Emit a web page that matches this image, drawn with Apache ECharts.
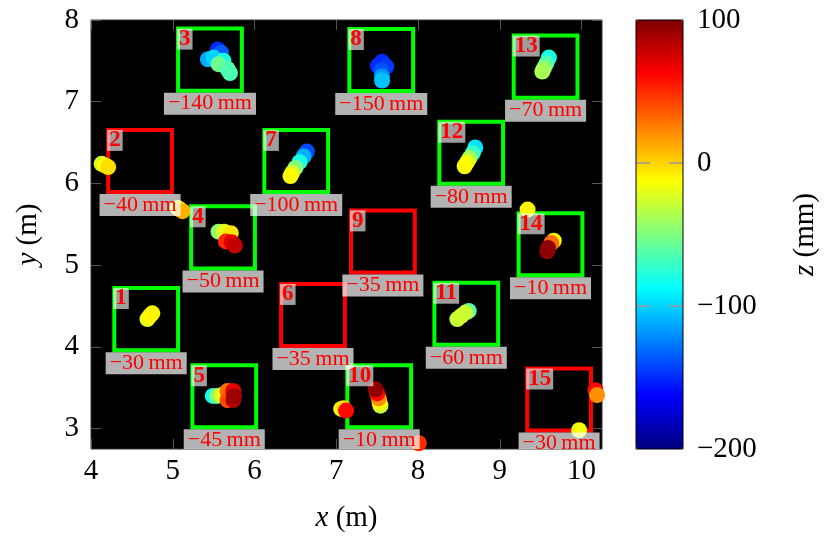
<!DOCTYPE html>
<html>
<head>
<meta charset="utf-8">
<script src="https://cdn.jsdelivr.net/npm/echarts@6/dist/echarts.min.js"></script>
<style>
  html, body { margin: 0; padding: 0; background: #fff; }
  #main { width: 831px; height: 544px; }
</style>
</head>
<body>
<div id="main"></div>
<script>
// boxes: centre (m), accepted or not, target depth (mm)
var boxNo    = [1, 2, 3, 4, 5, 6, 7, 8, 9, 10, 11, 12, 13, 14, 15];
var boxCx    = [4.675, 4.60, 5.455, 5.615, 5.63, 6.715, 6.51, 7.55, 7.57, 7.525, 8.59, 8.65, 9.56, 9.62, 9.725];
var boxCy    = [4.34, 6.275, 7.515, 5.34, 3.395, 4.39, 6.275, 7.51, 5.29, 3.395, 4.405, 6.375, 7.43, 5.255, 3.355];
var boxOk    = [1, 0, 1, 1, 1, 0, 1, 1, 0, 1, 1, 1, 1, 1, 0];
var boxDepth = [-30, -40, -140, -50, -45, -35, -100, -150, -35, -10, -60, -80, -70, -10, -30];
var boxW = 0.78, boxH = 0.76;

// measured points [x (m), y (m), z (mm)]
var blob1  = [[4.69, 4.34, -20], [4.72, 4.38, -12], [4.75, 4.41, -10]];
var blobL  = [[4.13, 6.24, -25], [4.17, 6.22, -12], [4.21, 6.20, -3]];
var blobC  = [[5.06, 5.70, -20], [5.09, 5.68, -5], [5.12, 5.66, 10]];
var blob3  = [[5.55, 7.64, -150], [5.59, 7.60, -135], [5.43, 7.52, -112], [5.50, 7.54, -100],
              [5.62, 7.50, -80], [5.56, 7.46, -55], [5.67, 7.40, -62], [5.70, 7.35, -65]];
var blob4  = [[5.56, 5.41, -45], [5.63, 5.41, -20], [5.71, 5.39, -5], [5.65, 5.29, 50],
              [5.72, 5.28, 70], [5.76, 5.24, 80]];
var blob5  = [[5.49, 3.40, -85], [5.54, 3.40, -50], [5.60, 3.41, -20], [5.67, 3.46, 30],
              [5.67, 3.35, 40], [5.74, 3.46, 70], [5.74, 3.35, 85], [5.75, 3.40, 90]];
var blob7  = [[6.64, 6.39, -140], [6.60, 6.33, -110], [6.55, 6.26, -80], [6.50, 6.19, -50],
              [6.46, 6.13, -25], [6.44, 6.09, -12]];
var blob8  = [[7.56, 7.49, -150], [7.51, 7.44, -150], [7.61, 7.43, -145], [7.55, 7.38, -138],
              [7.56, 7.31, -118], [7.56, 7.26, -105]];
var blob10 = [[7.54, 3.28, -30], [7.53, 3.32, -10], [7.52, 3.37, 20], [7.50, 3.43, 60], [7.48, 3.48, 95]];
var blobN  = [[7.06, 3.24, -15], [7.09, 3.25, -5], [7.12, 3.22, 60]];
var blob11 = [[8.62, 4.44, -65], [8.48, 4.34, -30], [8.53, 4.38, -25], [8.58, 4.42, -28]];
var blob12 = [[8.70, 6.44, -95], [8.67, 6.37, -70], [8.63, 6.31, -40], [8.60, 6.26, -18], [8.57, 6.21, -12]];
var blob13 = [[9.60, 7.54, -80], [9.57, 7.47, -65], [9.54, 7.41, -45], [9.52, 7.37, -38]];
var blob14 = [[9.34, 5.68, -10], [9.66, 5.30, -10], [9.63, 5.27, 30], [9.59, 5.21, 95], [9.58, 5.17, 95]];
var blobE  = [[10.17, 3.47, 60], [10.19, 3.41, 20], [9.97, 2.98, -15], [8.01, 2.82, 50]];

var xTicks = [4, 5, 6, 7, 8, 9, 10];
var yTicks = [3, 4, 5, 6, 7, 8];
var zMarks = [-100, 0];

var FONT = 'Liberation Serif';
var jet = ['#00007f', '#0000ff', '#007fff', '#00ffff', '#7fff7f', '#ffff00', '#ff7f00', '#ff0000', '#7f0000'];
var minus = function (v) { return String(v).replace('-', '\u2212'); };

var points = [].concat(blobL, blobC, blob1, blob3, blob4, blob5, blob7, blob8, blob10,
                       blobN, blob11, blob12, blob13, blob14, blobE);
var boxData = boxCx.map(function (x, i) { return [x, boxCy[i], boxNo[i], boxDepth[i], boxOk[i]]; });

function boxRect(api) {
  var p0 = api.coord([api.value(0) - boxW / 2, api.value(1) + boxH / 2]);
  var p1 = api.coord([api.value(0) + boxW / 2, api.value(1) - boxH / 2]);
  return { x: p0[0], y: p0[1], w: p1[0] - p0[0], h: p1[1] - p0[1] };
}

var tickStyle = { show: true, inside: true, length: 10, lineStyle: { color: '#555', width: 1 } };
var labelStyle = { fontFamily: FONT, fontSize: 29, color: '#000' };
var nameStyle = {
  fontFamily: FONT, fontSize: 29, color: '#000',
  rich: { i: { fontFamily: FONT, fontSize: 29, fontStyle: 'italic', color: '#000' } }
};

var chart = echarts.init(document.getElementById('main'));
var option = {
  backgroundColor: '#fff',
  animation: false,
  grid: [
    { left: 91, top: 20, width: 511, height: 429, show: true, backgroundColor: '#000',
      borderColor: '#333', borderWidth: 1, z: 0 },
    { left: 636, top: 20, width: 47, height: 429, show: true, backgroundColor: 'transparent',
      borderColor: '#000', borderWidth: 1, z: 10 }
  ],
  xAxis: [
    { gridIndex: 0, type: 'value', min: 4, max: 10.25, position: 'bottom', z: 1,
      axisLine: { show: false }, splitLine: { show: false },
      axisTick: Object.assign({ customValues: xTicks }, tickStyle),
      axisLabel: Object.assign({ customValues: xTicks, margin: 8, formatter: minus }, labelStyle),
      name: '{i|x} (m)', nameLocation: 'middle', nameGap: 55, nameTextStyle: nameStyle },
    { gridIndex: 0, type: 'value', min: 4, max: 10.25, position: 'top', z: 1,
      axisLine: { show: false }, splitLine: { show: false }, axisLabel: { show: false },
      axisTick: Object.assign({ customValues: xTicks }, tickStyle) },
    { gridIndex: 1, type: 'value', min: 0, max: 1, show: false }
  ],
  yAxis: [
    { gridIndex: 0, type: 'value', min: 2.75, max: 8, position: 'left', z: 1,
      axisLine: { show: false }, splitLine: { show: false },
      axisTick: Object.assign({ customValues: yTicks }, tickStyle),
      axisLabel: Object.assign({ customValues: yTicks, margin: 12, formatter: minus }, labelStyle),
      name: '{i|y} (m)', nameLocation: 'middle', nameGap: 48, nameTextStyle: nameStyle },
    { gridIndex: 0, type: 'value', min: 2.75, max: 8, position: 'right', z: 1,
      axisLine: { show: false }, splitLine: { show: false }, axisLabel: { show: false },
      axisTick: Object.assign({ customValues: yTicks }, tickStyle) },
    { gridIndex: 1, type: 'value', min: -200, max: 100, interval: 100, position: 'right', z: 8,
      axisLine: { show: false }, axisTick: { show: false }, splitLine: { show: false },
      axisLabel: Object.assign({ margin: 14, formatter: minus }, labelStyle),
      name: '{i|z} (mm)', nameLocation: 'middle', nameGap: 108, nameTextStyle: nameStyle }
  ],
  visualMap: {
    type: 'continuous', seriesIndex: 1, dimension: 2, min: -200, max: 100,
    calculable: false, orient: 'vertical', left: 636, top: 20, padding: 0,
    itemWidth: 47, itemHeight: 429, z: 4,
    inRange: { color: jet }
  },
  series: [
    { type: 'custom', xAxisIndex: 0, yAxisIndex: 0, clip: true, z: 2, silent: true,
      data: boxData,
      renderItem: function (params, api) {
        var r = boxRect(api);
        return { type: 'rect', shape: { x: r.x, y: r.y, width: r.w, height: r.h },
                 style: { fill: 'none', stroke: api.value(4) ? '#00ff00' : '#ff0000', lineWidth: 4 } };
      } },
    { type: 'scatter', xAxisIndex: 0, yAxisIndex: 0, z: 3, symbolSize: 16,
      itemStyle: { opacity: 1 }, data: points },
    { type: 'custom', xAxisIndex: 0, yAxisIndex: 0, clip: true, z: 4, silent: true,
      data: boxData,
      renderItem: function (params, api) {
        var r = boxRect(api);
        return { type: 'group', children: [
          { type: 'text', x: r.x + r.w / 2, y: r.y + r.h + 2,
            style: { text: minus(api.value(3)) + '\u2009mm', fill: '#ff0000', fontFamily: FONT,
                     fontSize: 22, align: 'center', verticalAlign: 'top', lineHeight: 22,
                     backgroundColor: 'rgba(255,255,255,0.7)', padding: [0, 4, 0, 4] } },
          { type: 'text', x: r.x - 1, y: r.y,
            style: { text: String(api.value(2)), fill: '#ff0000', fontFamily: FONT, fontWeight: 'bold',
                     fontSize: 23, align: 'left', verticalAlign: 'top', lineHeight: 21,
                     backgroundColor: 'rgba(255,255,255,0.62)', padding: [0, 2, 0, 2] } }
        ] };
      } },
    // dashed marks across the colour bar
    { type: 'custom', xAxisIndex: 2, yAxisIndex: 2, z: 6, silent: true,
      data: zMarks.map(function (v) { return [0, v]; }),
      renderItem: function (params, api) {
        var a = api.coord([0, api.value(1)]);
        var b = api.coord([1, api.value(1)]);
        var st = { stroke: '#999', lineWidth: 1.5 };
        return { type: 'group', children: [
          { type: 'line', shape: { x1: a[0], y1: a[1], x2: a[0] + 14, y2: a[1] }, style: st },
          { type: 'line', shape: { x1: b[0] - 14, y1: b[1], x2: b[0], y2: b[1] }, style: st }
        ] };
      } }
  ]
};
chart.setOption(option);
</script>
</body>
</html>
